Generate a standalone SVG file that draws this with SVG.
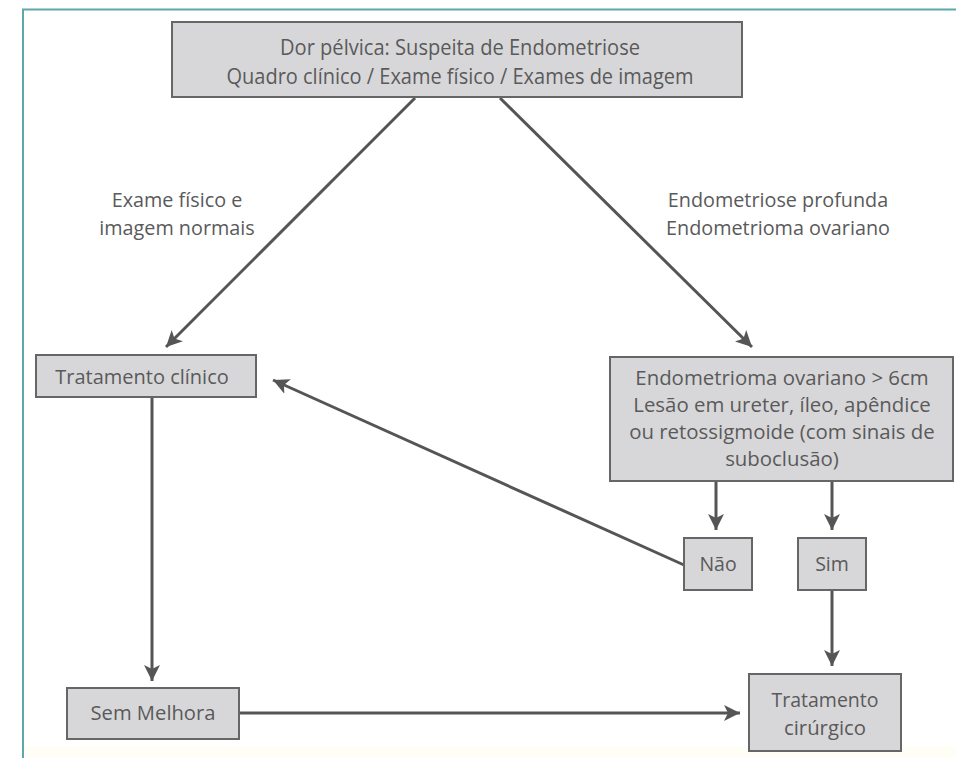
<svg xmlns="http://www.w3.org/2000/svg" width="956" height="758" viewBox="0 0 956 758">
<defs>
<style>
.box{fill:#d7d7d9;stroke:#666;stroke-width:2}
.t{font-family:"Open Sans","Noto Sans","Liberation Sans",sans-serif;fill:#5a5a5a;text-anchor:middle}
.c{stroke:#555;stroke-width:3;fill:none}
</style>
<marker id="ah" markerUnits="userSpaceOnUse" markerWidth="18" markerHeight="16" refX="16" refY="8" orient="auto">
<path d="M0,0 L16,8 L0,16 L4,8 z" fill="#555"/>
</marker>
</defs>
<rect x="0" y="0" width="956" height="758" fill="#ffffff"/>
<rect x="24" y="746" width="932" height="12" fill="#fffef6"/>
<path d="M23,758 V9.5 H956" fill="none" stroke="#5ea8aa" stroke-width="2"/>
<g id="connectors">
<line class="c" x1="415" y1="98" x2="166" y2="347" marker-end="url(#ah)"/>
<line class="c" x1="500" y1="98" x2="752" y2="347" marker-end="url(#ah)"/>
<line class="c" x1="716" y1="481" x2="716" y2="530" marker-end="url(#ah)"/>
<line class="c" x1="832" y1="481" x2="832" y2="530" marker-end="url(#ah)"/>
<line class="c" x1="684" y1="565" x2="273" y2="380" marker-end="url(#ah)"/>
<line class="c" x1="152" y1="397" x2="152" y2="681" marker-end="url(#ah)"/>
<line class="c" x1="832" y1="591" x2="832" y2="666" marker-end="url(#ah)"/>
<line class="c" x1="239" y1="713" x2="740" y2="713" marker-end="url(#ah)"/>
</g>
<g id="n-top">
<rect class="box" x="172" y="22" width="570" height="75"/>
<text class="t" x="460" y="55" font-size="21" textLength="360" lengthAdjust="spacingAndGlyphs">Dor pélvica: Suspeita de Endometriose</text>
<text class="t" x="460" y="84" font-size="21" textLength="467" lengthAdjust="spacingAndGlyphs">Quadro clínico / Exame físico / Exames de imagem</text>
</g>
<g id="lbl-left">
<text class="t" x="177" y="207" font-size="19.8">Exame físico e</text>
<text class="t" x="177" y="235" font-size="19.8">imagem normais</text>
</g>
<g id="lbl-right">
<text class="t" x="778" y="207" font-size="19.8">Endometriose profunda</text>
<text class="t" x="778" y="235" font-size="19.8">Endometrioma ovariano</text>
</g>
<g id="n-clinico">
<rect class="box" x="36" y="355" width="220" height="42"/>
<text class="t" x="142" y="384" font-size="20">Tratamento clínico</text>
</g>
<g id="n-criterios">
<rect class="box" x="610" y="357" width="343" height="124"/>
<text class="t" x="782" y="385" font-size="20.4">Endometrioma ovariano &gt; 6cm</text>
<text class="t" x="782" y="412" font-size="20.4">Lesão em ureter, íleo, apêndice</text>
<text class="t" x="782" y="439" font-size="20.4">ou retossigmoide (com sinais de</text>
<text class="t" x="782" y="466" font-size="20.4">suboclusão)</text>
</g>
<g id="n-nao">
<rect class="box" x="684" y="538" width="68" height="52"/>
<text class="t" x="718" y="571" font-size="19.5">Não</text>
</g>
<g id="n-sim">
<rect class="box" x="798" y="538" width="68" height="52"/>
<text class="t" x="832" y="571" font-size="19.5">Sim</text>
</g>
<g id="n-sem">
<rect class="box" x="67" y="688" width="172" height="51"/>
<text class="t" x="153" y="720" font-size="20" textLength="125" lengthAdjust="spacingAndGlyphs">Sem Melhora</text>
</g>
<g id="n-cirurgico">
<rect class="box" x="749" y="674" width="152" height="77"/>
<text class="t" x="825" y="707" font-size="20" textLength="107" lengthAdjust="spacingAndGlyphs">Tratamento</text>
<text class="t" x="825" y="735" font-size="20" textLength="82" lengthAdjust="spacingAndGlyphs">cirúrgico</text>
</g>
</svg>
